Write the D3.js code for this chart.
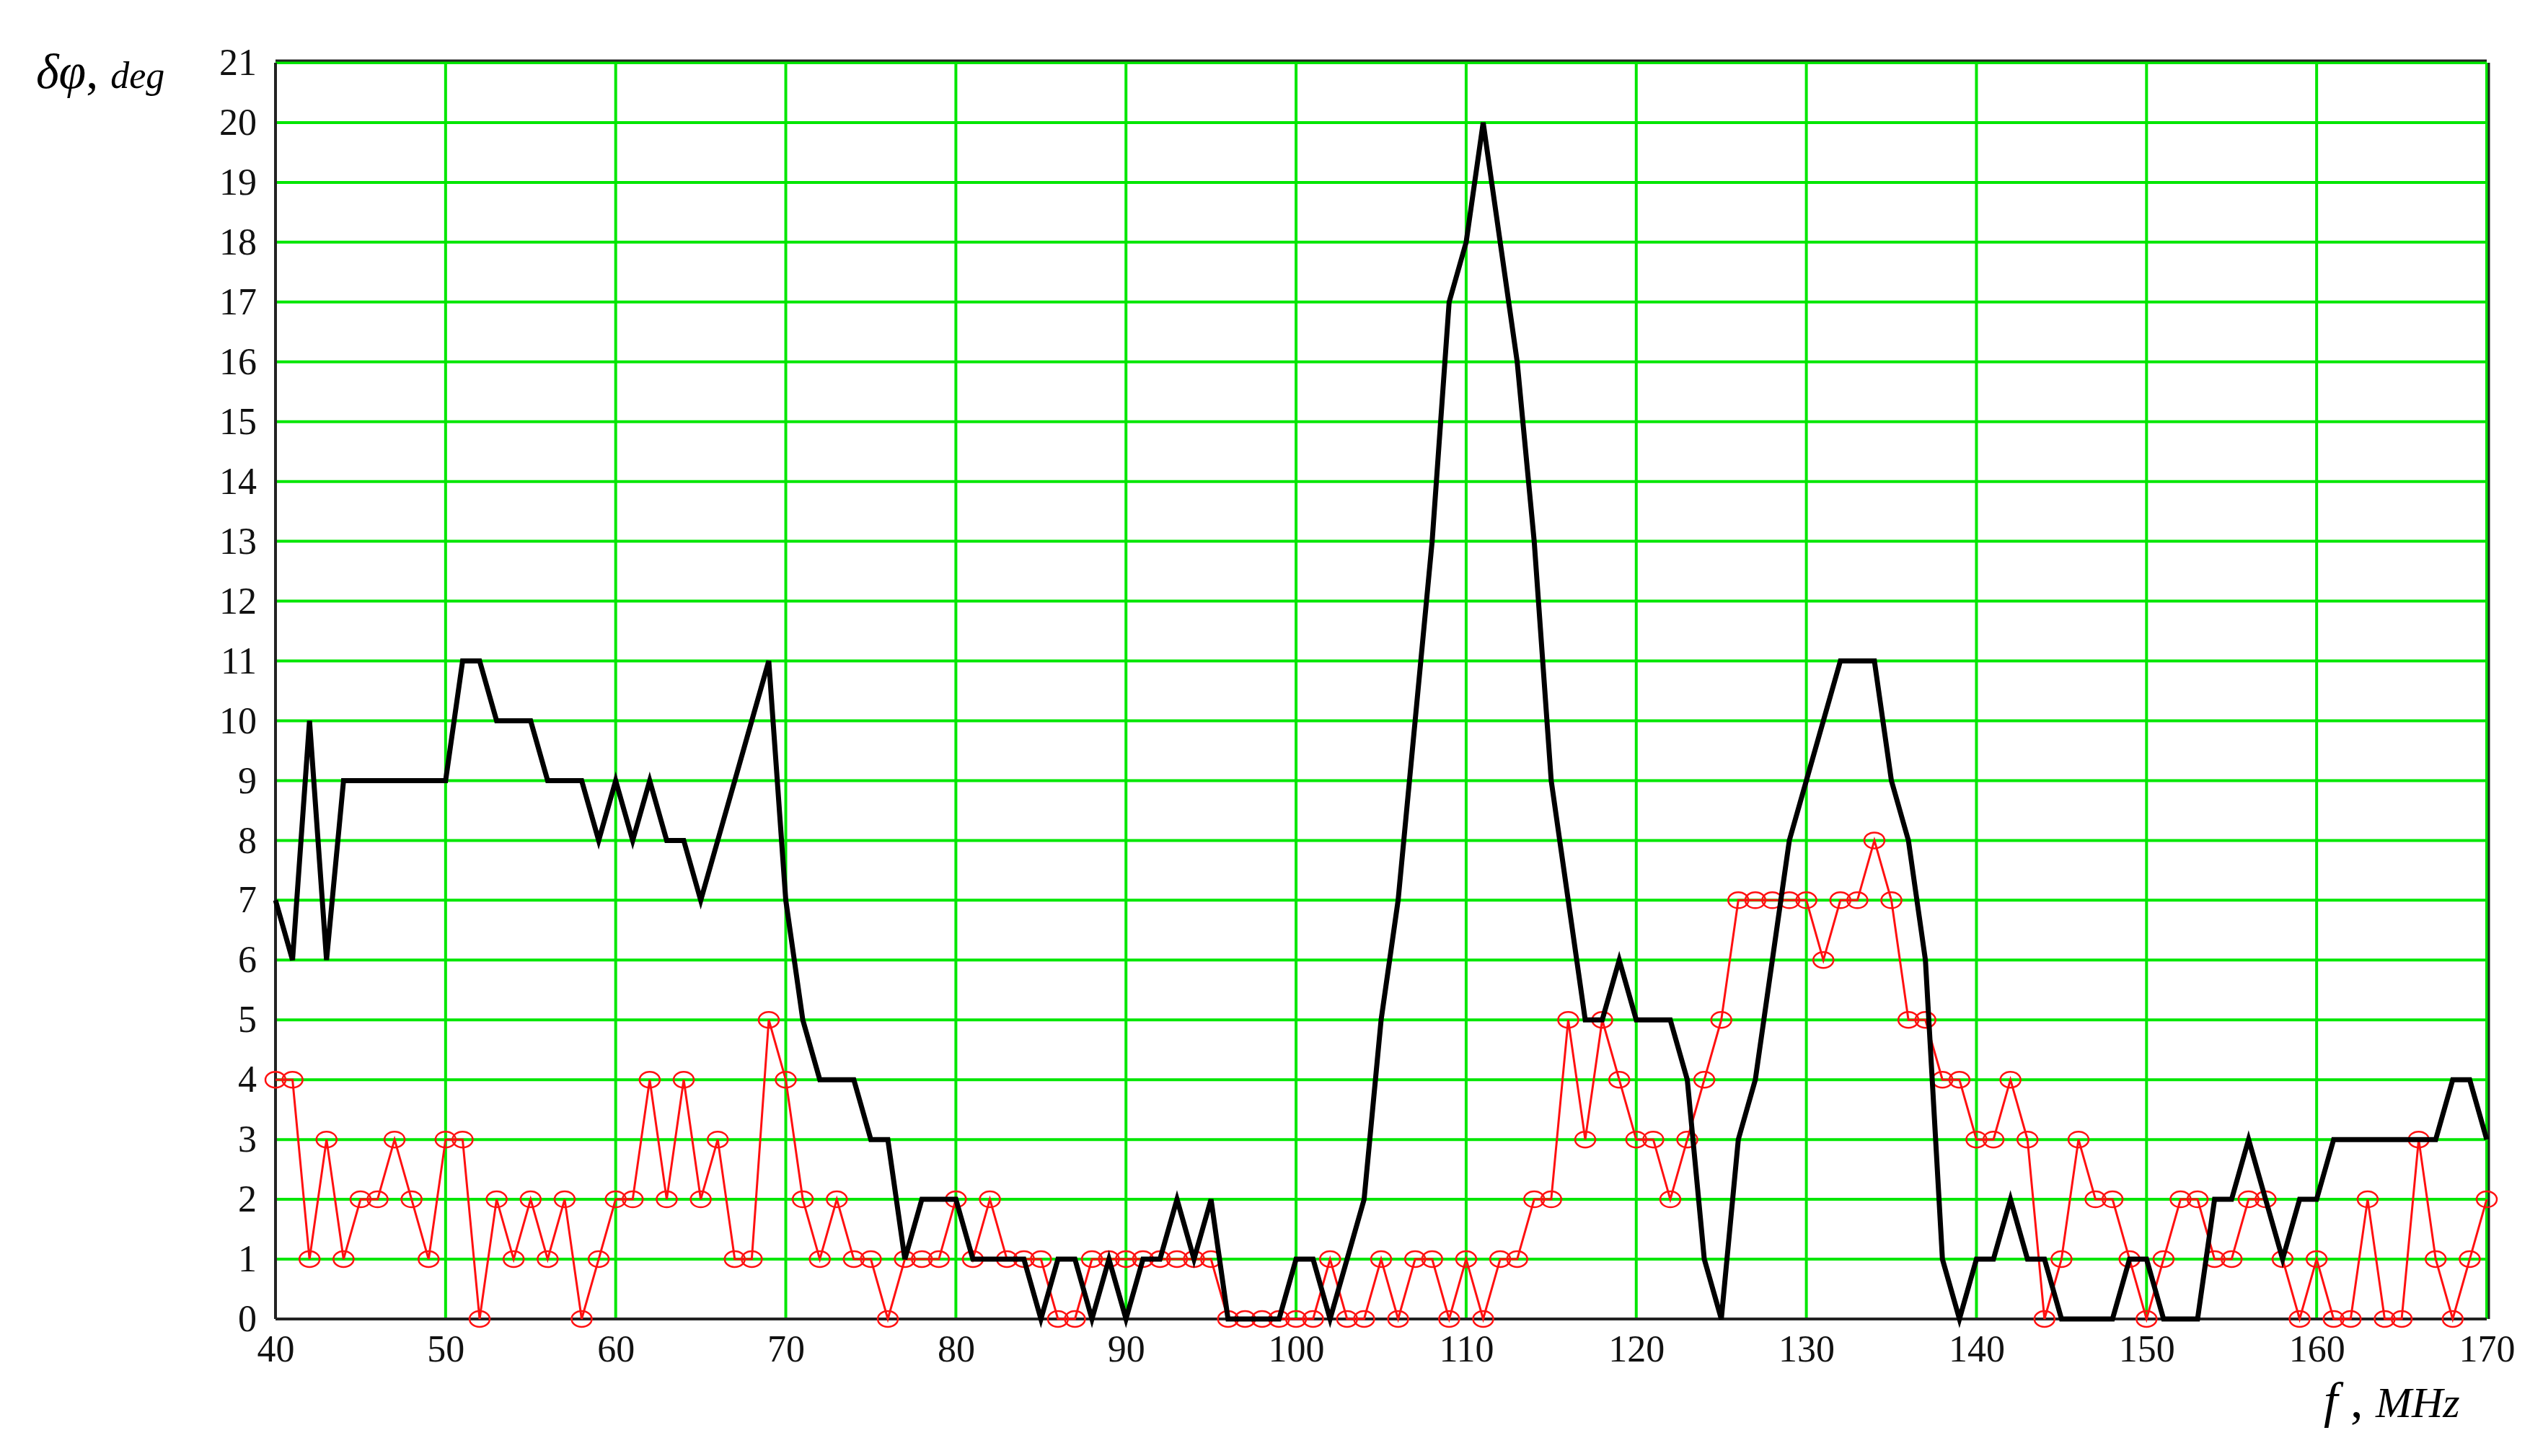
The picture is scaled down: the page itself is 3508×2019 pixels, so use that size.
<!DOCTYPE html>
<html>
<head>
<meta charset="utf-8">
<script src="https://cdn.jsdelivr.net/npm/d3@7"></script>
<style>
  body { margin: 0; background: #fff; }
  text { font-family: "Liberation Serif", "DejaVu Serif", serif; }
</style>
</head>
<body>
<svg id="chart" width="3508" height="2019"></svg>
<script>
// frequency grid, MHz (1 MHz step)
const freqs = d3.range(40, 171);

// black curve, deg
const phaseBlack = [
  7, 6, 10, 6, 9, 9, 9, 9, 9, 9,          // 40-49
  9, 11, 11, 10, 10, 10, 9, 9, 9, 8,      // 50-59
  9, 8, 9, 8, 8, 7, 8, 9, 10, 11,         // 60-69
  7, 5, 4, 4, 4, 3, 3, 1, 2, 2,           // 70-79
  2, 1, 1, 1, 1, 0, 1, 1, 0, 1,           // 80-89
  0, 1, 1, 2, 1, 2, 0, 0, 0, 0,           // 90-99
  1, 1, 0, 1, 2, 5, 7, 10, 13, 17,        // 100-109
  18, 20, 18, 16, 13, 9, 7, 5, 5, 6,      // 110-119
  5, 5, 5, 4, 1, 0, 3, 4, 6, 8,           // 120-129
  9, 10, 11, 11, 11, 9, 8, 6, 1, 0,       // 130-139
  1, 1, 2, 1, 1, 0, 0, 0, 0, 1,           // 140-149
  1, 0, 0, 0, 2, 2, 3, 2, 1, 2,           // 150-159
  2, 3, 3, 3, 3, 3, 3, 3, 4, 4,           // 160-169
  3                                       // 170
];

// red curve with circle markers, deg
const phaseRed = [
  4, 4, 1, 3, 1, 2, 2, 3, 2, 1,
  3, 3, 0, 2, 1, 2, 1, 2, 0, 1,
  2, 2, 4, 2, 4, 2, 3, 1, 1, 5,
  4, 2, 1, 2, 1, 1, 0, 1, 1, 1,
  2, 1, 2, 1, 1, 1, 0, 0, 1, 1,
  1, 1, 1, 1, 1, 1, 0, 0, 0, 0,
  0, 0, 1, 0, 0, 1, 0, 1, 1, 0,
  1, 0, 1, 1, 2, 2, 5, 3, 5, 4,
  3, 3, 2, 3, 4, 5, 7, 7, 7, 7,
  7, 6, 7, 7, 8, 7, 5, 5, 4, 4,
  3, 3, 4, 3, 0, 1, 3, 2, 2, 1,
  0, 1, 2, 2, 1, 1, 2, 2, 1, 0,
  1, 0, 0, 2, 0, 0, 3, 1, 0, 1,
  2
];

const xTicks = d3.range(40, 171, 10);
const yTicks = d3.range(0, 22, 1);

const svg = d3.select('#chart');
const margin = { left: 382, top: 87, right: 3448, bottom: 1829 };

const x = d3.scaleLinear().domain([40, 170]).range([margin.left, margin.right]);
const y = d3.scaleLinear().domain([0, 21]).range([margin.bottom, margin.top]);

// grid
svg.append('g')
  .selectAll('line')
  .data(yTicks)
  .join('line')
  .attr('x1', margin.left).attr('x2', margin.right)
  .attr('y1', d => y(d)).attr('y2', d => y(d))
  .attr('stroke', '#00e600').attr('stroke-width', 4);

svg.append('g')
  .selectAll('line')
  .data(xTicks)
  .join('line')
  .attr('x1', d => x(d)).attr('x2', d => x(d))
  .attr('y1', margin.top).attr('y2', margin.bottom)
  .attr('stroke', '#00e600').attr('stroke-width', 4);

// frame
svg.append('line')
  .attr('x1', margin.left).attr('x2', margin.left)
  .attr('y1', margin.top).attr('y2', margin.bottom)
  .attr('stroke', '#222').attr('stroke-width', 4);
svg.append('line')
  .attr('x1', margin.left).attr('x2', margin.right)
  .attr('y1', margin.bottom).attr('y2', margin.bottom)
  .attr('stroke', '#222').attr('stroke-width', 4);
svg.append('line')
  .attr('x1', margin.left).attr('x2', margin.right)
  .attr('y1', margin.top - 3).attr('y2', margin.top - 3)
  .attr('stroke', '#222').attr('stroke-width', 3);
svg.append('line')
  .attr('x1', margin.right + 3).attr('x2', margin.right + 3)
  .attr('y1', margin.top).attr('y2', margin.bottom)
  .attr('stroke', '#222').attr('stroke-width', 3);

// tick labels via d3 axes
const yAxis = svg.append('g')
  .attr('transform', `translate(${margin.left},0)`)
  .call(d3.axisLeft(y).tickValues(yTicks).tickSize(0).tickPadding(26));
const xAxis = svg.append('g')
  .attr('transform', `translate(0,${margin.bottom})`)
  .call(d3.axisBottom(x).tickValues(xTicks).tickSize(0).tickPadding(22));
[yAxis, xAxis].forEach(g => {
  g.select('.domain').remove();
  g.selectAll('text')
    .attr('font-family', '"Liberation Serif", serif')
    .attr('font-size', 52)
    .attr('fill', '#111');
});

// red series
const red = freqs.map((f, i) => [f, phaseRed[i]]);
svg.append('path')
  .datum(red)
  .attr('fill', 'none')
  .attr('stroke', '#ff1010')
  .attr('stroke-width', 3)
  .attr('d', d3.line().x(d => x(d[0])).y(d => y(d[1])));
svg.append('g')
  .selectAll('ellipse')
  .data(red)
  .join('ellipse')
  .attr('cx', d => x(d[0])).attr('cy', d => y(d[1]))
  .attr('rx', 14).attr('ry', 11)
  .attr('fill', 'none')
  .attr('stroke', '#ff1010')
  .attr('stroke-width', 2.5);

// black series
const black = freqs.map((f, i) => [f, phaseBlack[i]]);
svg.append('path')
  .datum(black)
  .attr('fill', 'none')
  .attr('stroke', '#000')
  .attr('stroke-width', 7)
  .attr('d', d3.line().x(d => x(d[0])).y(d => y(d[1])));

// axis titles
const yt = svg.append('text')
  .attr('x', 50).attr('y', 122)
  .attr('font-style', 'italic');
yt.append('tspan').attr('font-size', 68).text('δφ');
yt.append('tspan').attr('font-size', 68).attr('font-style', 'normal').text(', ');
yt.append('tspan').attr('font-size', 52).text('deg');

const xt = svg.append('text')
  .attr('x', 3222).attr('y', 1965)
  .attr('font-style', 'italic');
xt.append('tspan').attr('font-size', 70).text('f');
xt.append('tspan').attr('font-size', 70).attr('font-style', 'normal').text(' , ');
xt.append('tspan').attr('font-size', 60).text('MHz');
</script>
</body>
</html>
